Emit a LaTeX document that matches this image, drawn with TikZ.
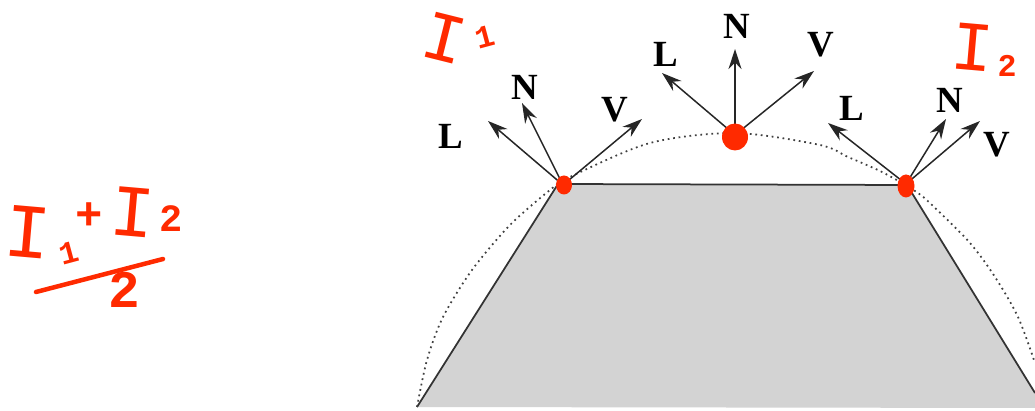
\documentclass[tikz,border=0pt]{standalone}
\usepackage{fontspec}
\setmainfont{Liberation Serif}
\newfontfamily\handfont{Liberation Mono}
\usetikzlibrary{arrows.meta,shapes.geometric}
\definecolor{surface}{HTML}{D3D3D3}
\definecolor{marker}{HTML}{FF2A00}
\tikzset{vec/.style={-{Stealth[length=4mm,width=2.6mm]},line width=0.3mm,black!85},lab/.style={font=\bfseries\fontsize{21}{23}\selectfont,inner sep=0pt},blob/.style={draw=none,fill=marker,ellipse,inner sep=0pt},hand/.style={text=marker,inner sep=0pt,font=\handfont\fontsize{#1}{#1}\selectfont},handb/.style={text=marker,inner sep=0pt,font=\handfont\bfseries\fontsize{#1}{#1}\selectfont},stroke/.style={draw=marker,line width=0.9mm,line cap=round}}
\begin{document}
\begin{tikzpicture}[x=0.2mm,y=-0.2mm]
\useasboundingbox (0,0) rectangle (1035,411);
\coordinate (bl) at (417,407);\coordinate (tl) at (558,184);\coordinate (tr) at (907,185);\coordinate (br) at (1035,393);\coordinate (bb) at (1035,408);
\fill[surface] (bl)--(tl)--(tr)--(br)--(bb)--cycle;
\draw[line width=0.35mm,black!80] (bl)--(tl)--(tr)--(br);
\draw[dash pattern=on 0.35mm off 0.75mm,line width=0.35mm,black!75] plot[smooth] coordinates {(417,407) (427,360) (443,317) (472,270) (510,225) (550,190) (570,177) (650,143) (735,133) (820,145) (848,157) (882,172) (915,191) (932,205) (970,243) (995,277) (1018,317) (1035,363)};
\coordinate (p1) at (563,185);\coordinate (p2) at (735,135);\coordinate (p3) at (906,184);
\coordinate (l1) at (488,121);\coordinate (n1) at (522,103);\coordinate (v1) at (642,119);
\coordinate (l2) at (662,73);\coordinate (n2) at (735,49);\coordinate (v2) at (814,71);
\coordinate (l3) at (828,123);\coordinate (n3) at (946,119);\coordinate (v3) at (980,121);
\foreach \a/\b in {p1/l1,p1/n1,p1/v1,p2/l2,p2/n2,p2/v2,p3/l3,p3/n3,p3/v3} \draw[vec] (\a)--(\b);
\node[lab] (ll1) at (451,136) {L};\node[lab] (ln1) at (525,87) {N};\node[lab] (lv1) at (615,110) {V};
\node[lab] (ll2) at (666,54) {L};\node[lab] (ln2) at (737,26) {N};\node[lab] (lv2) at (821,45) {V};
\node[lab] (ll3) at (852,108) {L};\node[lab] (ln3) at (950,100) {N};\node[lab] (lv3) at (997,145) {V};
\node[blob,minimum width=3.2mm,minimum height=3.8mm] (b1) at (564,185) {};
\node[blob,minimum width=5.2mm,minimum height=5.4mm] (b2) at (735,137) {};
\node[blob,minimum width=3.4mm,minimum height=4.6mm] (b3) at (906,186) {};
\node[hand=40,rotate=-14] (i1) at (445,38) {I};\node[handb=18,rotate=15] (s1) at (485,37) {1};
\node[hand=40,rotate=-5] (i2) at (973,47) {I};\node[handb=18] (s2) at (1007,66) {2};
\node[hand=44,rotate=-5] (i3) at (28,232) {I};\node[handb=18,rotate=15] (s3) at (69,253) {1};
\node[handb=26] (pl) at (89,216) {+};
\node[hand=42,rotate=-5] (i4) at (133,212) {I};\node[handb=22] (s4) at (171,219) {2};
\coordinate (fa) at (36,292);\coordinate (fb) at (163,259);
\draw[stroke] (fa)--(fb);
\node[handb=30] (dn) at (124,290) {2};
\end{tikzpicture}
\end{document}
